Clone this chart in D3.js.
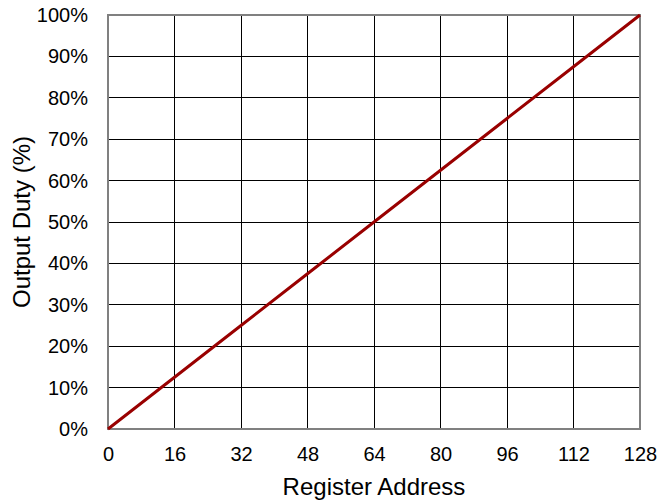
<!DOCTYPE html>
<html>
<head>
<meta charset="utf-8">
<script src="https://cdn.jsdelivr.net/npm/d3@7"></script>
<style>
  body { margin: 0; background: #fff; }
  text { font-family: "Liberation Sans", Arial, sans-serif; }
</style>
</head>
<body>
<div id="chart"></div>
<script>
// register address vs output duty
const address = [0, 16, 32, 48, 64, 80, 96, 112, 128];
const duty = [0, 12.5, 25, 37.5, 50, 62.5, 75, 87.5, 100];
const xTicks = [0, 16, 32, 48, 64, 80, 96, 112, 128];
const yTicks = [0, 10, 20, 30, 40, 50, 60, 70, 80, 90, 100];

const width = 659, height = 504;
const margin = { top: 15, right: 19, bottom: 75, left: 108 };
const font = "'Liberation Sans', Arial, sans-serif";

const svg = d3.select("#chart")
  .append("svg")
  .attr("width", width)
  .attr("height", height);

const x = d3.scaleLinear().domain([0, 128]).range([margin.left, width - margin.right]);
const y = d3.scaleLinear().domain([0, 100]).range([height - margin.bottom, margin.top]);

// grid
svg.append("g")
  .selectAll("line")
  .data(xTicks.slice(1, -1))
  .join("line")
  .attr("x1", d => x(d)).attr("x2", d => x(d))
  .attr("y1", y(0)).attr("y2", y(100))
  .attr("stroke", "#000").attr("stroke-width", 1)
  .attr("shape-rendering", "crispEdges");

svg.append("g")
  .selectAll("line")
  .data(yTicks.slice(1, -1))
  .join("line")
  .attr("x1", x(0)).attr("x2", x(128))
  .attr("y1", d => y(d)).attr("y2", d => y(d))
  .attr("stroke", "#000").attr("stroke-width", 1)
  .attr("shape-rendering", "crispEdges");

// frame
svg.append("rect")
  .attr("x", x(0)).attr("y", y(100))
  .attr("width", x(128) - x(0)).attr("height", y(0) - y(100))
  .attr("fill", "none")
  .attr("stroke", "#808080").attr("stroke-width", 2);

// tick labels
const xAxis = svg.append("g")
  .attr("transform", `translate(0,${y(0)})`)
  .call(d3.axisBottom(x).tickValues(xTicks).tickSize(0).tickPadding(18));
xAxis.select(".domain").remove();
xAxis.selectAll("text")
  .style("font-size", "20px").attr("fill", "#000")
  .style("font-family", font);

const yAxis = svg.append("g")
  .attr("transform", `translate(${x(0)},0)`)
  .call(d3.axisLeft(y).tickValues(yTicks).tickSize(0).tickPadding(20).tickFormat(d => d + "%"));
yAxis.select(".domain").remove();
yAxis.selectAll("text")
  .style("font-size", "20px").attr("fill", "#000")
  .style("font-family", font);

// data line
const line = d3.line().x((d, i) => x(address[i])).y(d => y(d));
svg.append("path")
  .datum(duty)
  .attr("d", line)
  .attr("fill", "none")
  .attr("stroke", "#990000")
  .attr("stroke-width", 3);

// titles
svg.append("text")
  .attr("x", x(64)).attr("y", 495)
  .attr("text-anchor", "middle")
  .style("font-size", "24px")
  .text("Register Address");

svg.append("text")
  .attr("transform", `translate(30,${y(50)}) rotate(-90)`)
  .attr("text-anchor", "middle")
  .style("font-size", "24px")
  .text("Output Duty (%)");
</script>
</body>
</html>
